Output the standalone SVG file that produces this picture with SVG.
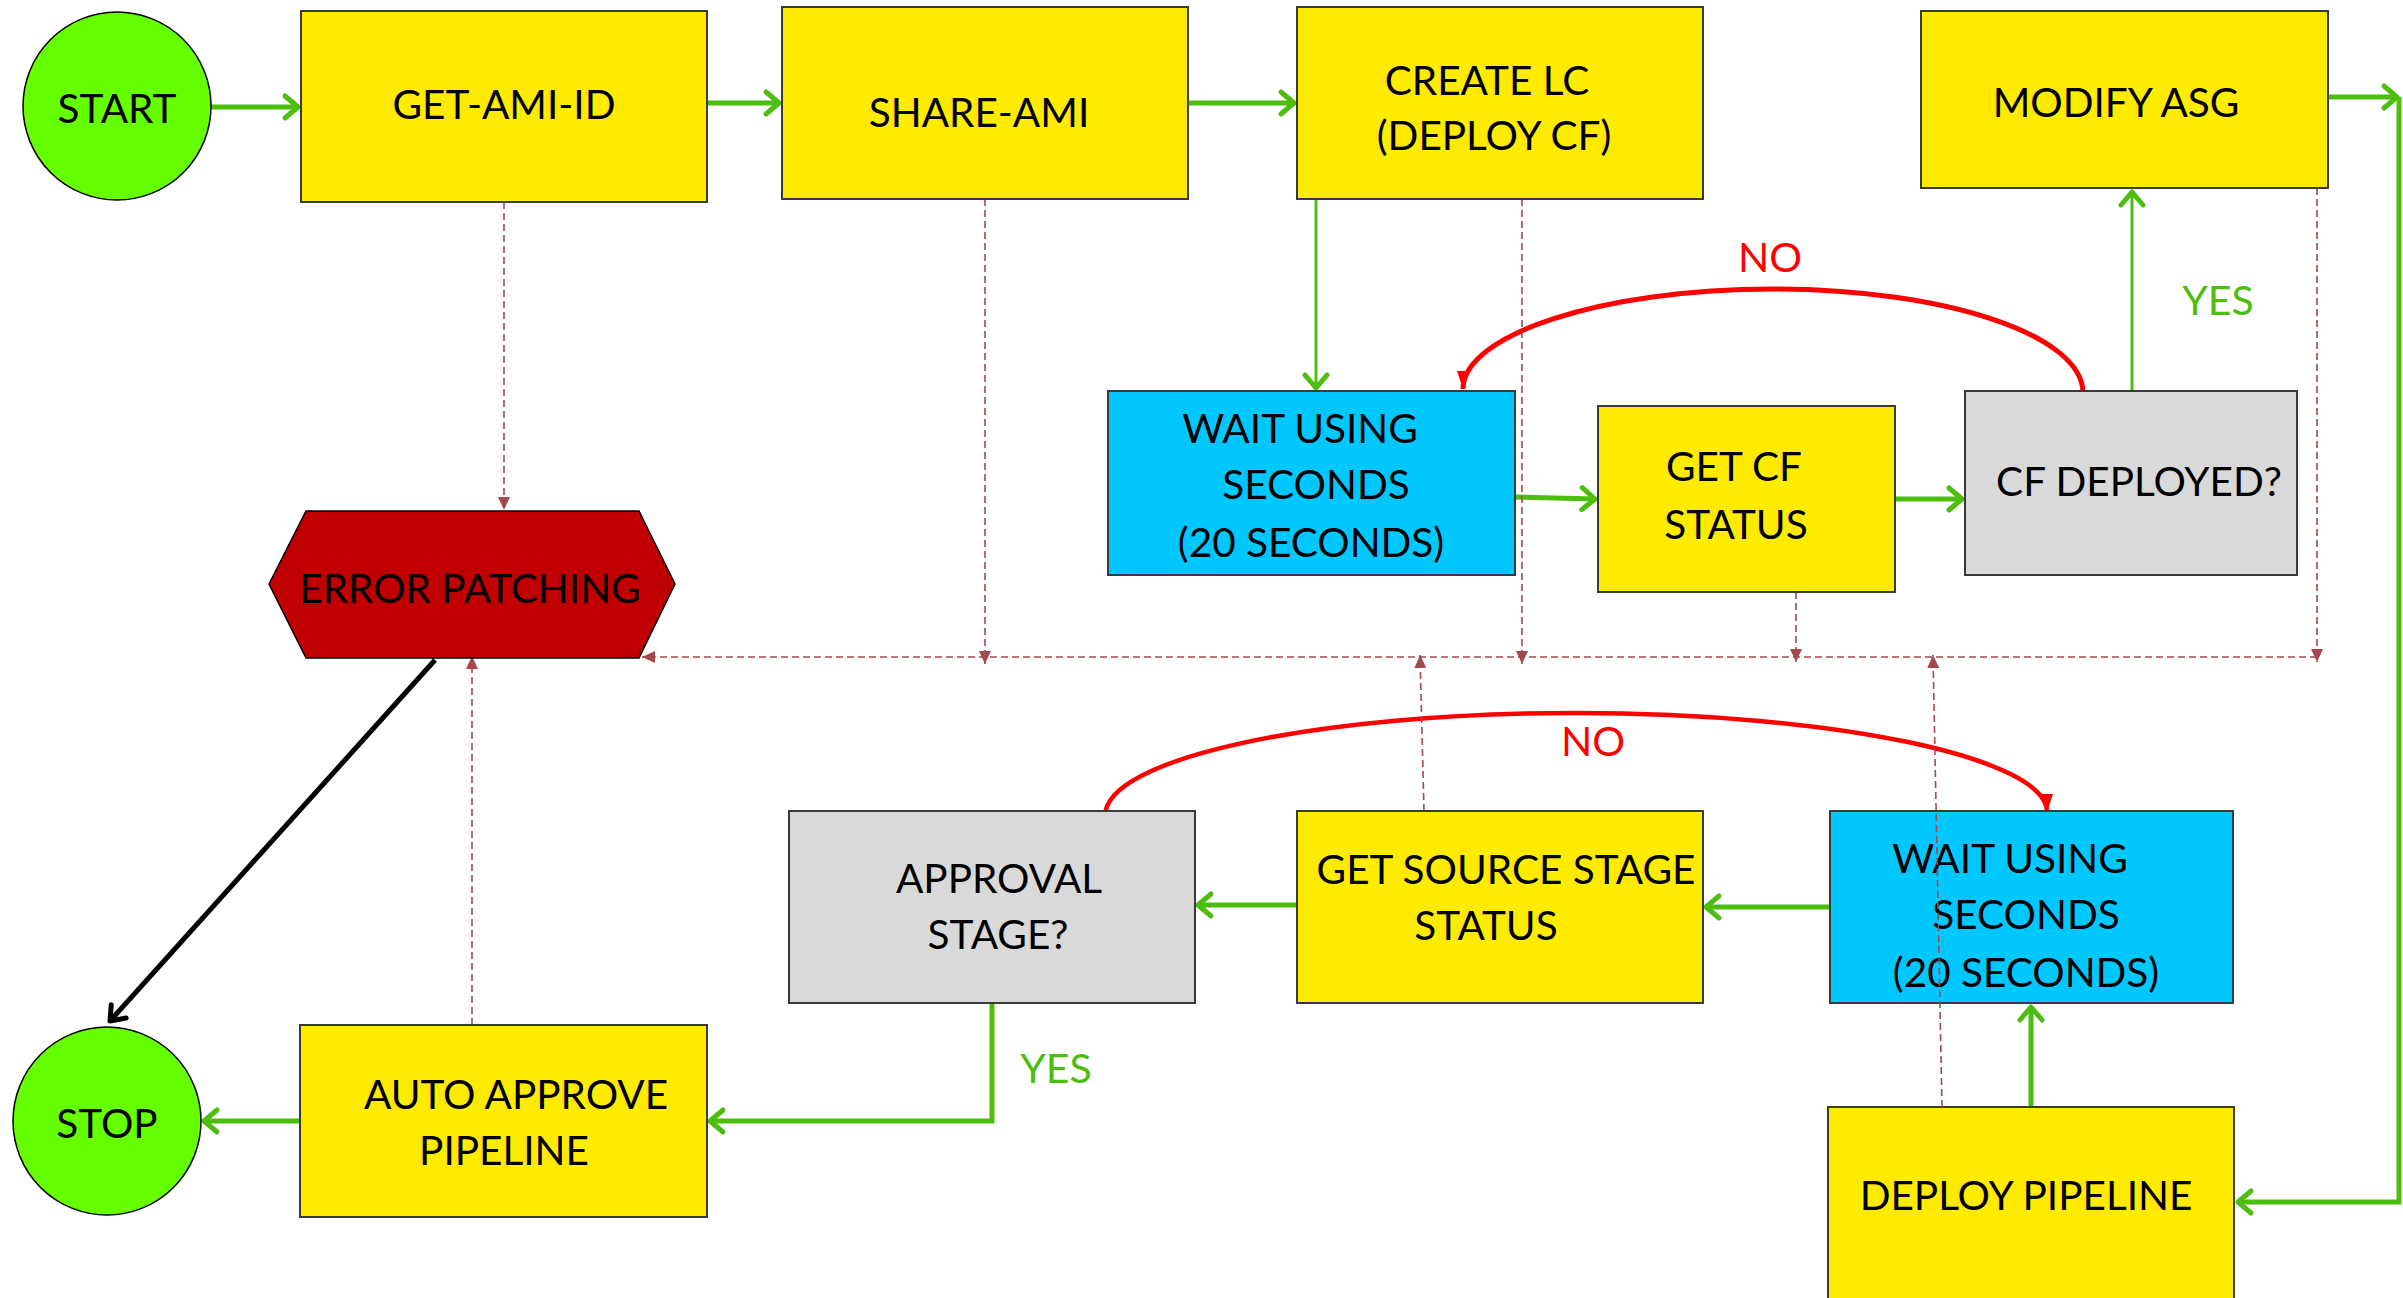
<svg xmlns="http://www.w3.org/2000/svg" width="2403" height="1298" viewBox="0 0 2403 1298">
<style>
  .t{font-family:Lato,"Liberation Sans",sans-serif;font-size:40.5px;fill:#000;text-anchor:middle}
  .lbl{font-family:Lato,"Liberation Sans",sans-serif;font-size:41px;text-anchor:middle}
  .box{stroke:#3a3a3a;stroke-width:2}
  .yel{fill:#FFEB00}
  .blu{fill:#00C8FF}
  .gry{fill:#D9D9D9}
  .grn{fill:#66FF00;stroke:#000;stroke-width:1.5}
  .g{fill:none;stroke:#4DBE0E;stroke-width:5}
  .g3{fill:none;stroke:#4DBE0E;stroke-width:3}
  .d{fill:none;stroke:#A5474D;stroke-width:1.6;stroke-dasharray:7 4}
  .r{fill:none;stroke:#FF0000;stroke-width:5}
</style>
<defs>
  <marker id="ag" viewBox="-20 -16 26 32" refX="0" refY="0" markerWidth="26" markerHeight="32" markerUnits="userSpaceOnUse" orient="auto">
    <path d="M-13,-11 L0,0 L-13,11" fill="none" stroke="#4DBE0E" stroke-width="5" stroke-linecap="round" stroke-linejoin="round"/>
  </marker>
  <marker id="ab" viewBox="-20 -16 26 32" refX="0" refY="0" markerWidth="26" markerHeight="32" markerUnits="userSpaceOnUse" orient="auto">
    <path d="M-13,-10 L0,0 L-13,10" fill="none" stroke="#000" stroke-width="5" stroke-linecap="round" stroke-linejoin="round"/>
  </marker>
  <marker id="ad" viewBox="-14 -8 16 16" refX="0" refY="0" markerWidth="16" markerHeight="16" markerUnits="userSpaceOnUse" orient="auto">
    <path d="M-13,-6 L0,0 L-13,6 Z" fill="#A5474D"/>
  </marker>
  <marker id="ar" viewBox="-20 -8 22 16" refX="0" refY="0" markerWidth="22" markerHeight="16" markerUnits="userSpaceOnUse" orient="auto">
    <path d="M-18,-6 L0,0 L-18,6 Z" fill="#FF0000"/>
  </marker>
</defs>
<rect width="2403" height="1298" fill="#fff"/>

<g id="connectors">
  <!-- green flow -->
  <line class="g" x1="211" y1="107" x2="298" y2="107" marker-end="url(#ag)"/>
  <line class="g" x1="707" y1="103" x2="779" y2="103" marker-end="url(#ag)"/>
  <line class="g" x1="1188" y1="103" x2="1294" y2="103" marker-end="url(#ag)"/>
  <line class="g3" x1="1316" y1="199" x2="1316" y2="388" marker-end="url(#ag)"/>
  <line class="g" x1="1515" y1="497" x2="1595" y2="499" marker-end="url(#ag)"/>
  <line class="g" x1="1895" y1="499" x2="1962" y2="499" marker-end="url(#ag)"/>
  <line class="g3" x1="2132" y1="391" x2="2132" y2="192" marker-end="url(#ag)"/>
  <line class="g" x1="2328" y1="97" x2="2397" y2="97" marker-end="url(#ag)"/>
  <polyline class="g" points="2399,97 2399,1202 2238,1202" marker-end="url(#ag)"/>
  <line class="g" x1="2031" y1="1107" x2="2031" y2="1007" marker-end="url(#ag)"/>
  <line class="g" x1="1830" y1="907" x2="1706" y2="907" marker-end="url(#ag)"/>
  <line class="g" x1="1297" y1="905" x2="1198" y2="905" marker-end="url(#ag)"/>
  <polyline class="g" points="992,1002 992,1121 710,1121" marker-end="url(#ag)"/>
  <line class="g" x1="300" y1="1121" x2="204" y2="1121" marker-end="url(#ag)"/>
  <!-- black to stop -->
  <line x1="435" y1="660" x2="110" y2="1021" stroke="#000" stroke-width="5" marker-end="url(#ab)"/>
  <!-- red NO loops -->
  <path class="r" d="M2083,393 C2083,334.7 1944.2,289 1773,289 C1601.8,289 1463,334.7 1463,389" marker-end="url(#ar)"/>
  <path class="r" d="M1105,816 C1105,758.2 1315.9,713 1576,713 C1836.1,713 2047,758.2 2047,812" marker-end="url(#ar)" style="stroke-width:4.5"/>
  <!-- dashed error paths -->
  <line class="d" x1="504" y1="202" x2="504" y2="510" marker-end="url(#ad)"/>
  <line class="d" x1="2317" y1="657" x2="642" y2="657" marker-end="url(#ad)"/>
  <line class="d" x1="985" y1="199" x2="985" y2="664" marker-end="url(#ad)"/>
  <line class="d" x1="1522" y1="199" x2="1522" y2="664" marker-end="url(#ad)"/>
  <line class="d" x1="1796" y1="592" x2="1796" y2="662" marker-end="url(#ad)"/>
  <line class="d" x1="2317" y1="188" x2="2317" y2="662" marker-end="url(#ad)"/>
  <line class="d" x1="1424" y1="811" x2="1420" y2="655" marker-end="url(#ad)"/>
  <line class="d" x1="472" y1="1025" x2="472" y2="656" marker-end="url(#ad)"/>
  <!-- labels -->
  <text class="lbl" x="1770" y="272" fill="#FF0000">NO</text>
  <text class="lbl" x="2218" y="315" fill="#4DBE0E">YES</text>
  <text class="lbl" x="1593" y="756" fill="#FF0000">NO</text>
  <text class="lbl" x="1056" y="1083" fill="#4DBE0E">YES</text>
</g>

<g id="start"><circle class="grn" cx="117" cy="106" r="94"/><text class="t" x="117" y="123">START</text></g>
<g id="get-ami-id"><rect class="box yel" x="301" y="11" width="406" height="191"/><text class="t" x="504" y="119">GET-AMI-ID</text></g>
<g id="share-ami"><rect class="box yel" x="782" y="7" width="406" height="192"/><text class="t" x="979" y="127">SHARE-AMI</text></g>
<g id="create-lc"><rect class="box yel" x="1297" y="7" width="406" height="192"/><text class="t" x="1487" y="95">CREATE LC</text><text class="t" x="1494" y="150">(DEPLOY CF)</text></g>
<g id="modify-asg"><rect class="box yel" x="1921" y="11" width="407" height="177"/><text class="t" x="2116" y="117">MODIFY ASG</text></g>
<g id="wait-1"><rect class="box blu" x="1108" y="391" width="407" height="184"/><text class="t" x="1300" y="443">WAIT USING</text><text class="t" x="1316" y="499">SECONDS</text><text class="t" x="1311" y="557">(20 SECONDS)</text></g>
<g id="get-cf-status"><rect class="box yel" x="1598" y="406" width="297" height="186"/><text class="t" x="1734" y="481">GET CF</text><text class="t" x="1736" y="539">STATUS</text></g>
<g id="cf-deployed"><rect class="box gry" x="1965" y="391" width="332" height="184"/><text class="t" x="2139" y="496">CF DEPLOYED?</text></g>
<g id="error-patching"><polygon points="269,584 306,511 639,511 675,584 639,658 306,658" fill="#C00000" stroke="#000" stroke-width="1.5"/><text class="t" x="470" y="603">ERROR PATCHING</text></g>
<g id="approval-stage"><rect class="box gry" x="789" y="811" width="406" height="192"/><text class="t" x="999" y="893">APPROVAL</text><text class="t" x="998" y="949">STAGE?</text></g>
<g id="get-source-stage-status"><rect class="box yel" x="1297" y="811" width="406" height="192"/><text class="t" x="1506" y="884">GET SOURCE STAGE</text><text class="t" x="1486" y="940">STATUS</text></g>
<g id="wait-2"><rect class="box blu" x="1830" y="811" width="403" height="192"/><text class="t" x="2010" y="873">WAIT USING</text><text class="t" x="2026" y="929">SECONDS</text><text class="t" x="2026" y="987">(20 SECONDS)</text></g>
<g id="stop"><circle class="grn" cx="107" cy="1121" r="94"/><text class="t" x="107" y="1138">STOP</text></g>
<g id="auto-approve-pipeline"><rect class="box yel" x="300" y="1025" width="407" height="192"/><text class="t" x="516" y="1109">AUTO APPROVE</text><text class="t" x="504" y="1165">PIPELINE</text></g>
<g id="deploy-pipeline"><rect class="box yel" x="1828" y="1107" width="406" height="205"/><text class="t" x="2026" y="1210">DEPLOY PIPELINE</text></g>

<g id="connectors-over">
  <line class="d" x1="1942" y1="1107" x2="1933" y2="655" marker-end="url(#ad)"/>
</g>
</svg>
